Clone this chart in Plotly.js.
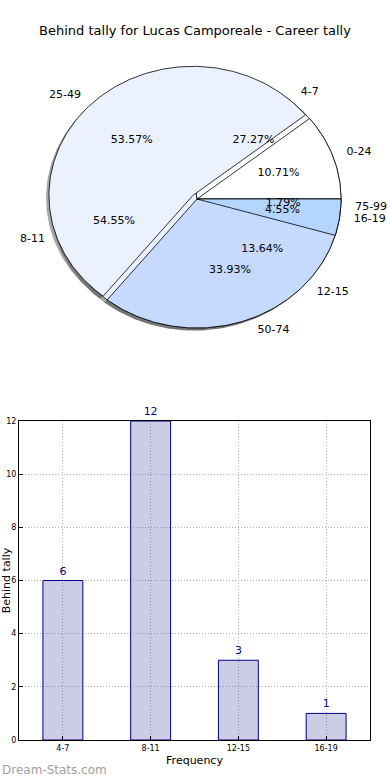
<!DOCTYPE html>
<html><head><meta charset="utf-8">
<script src="https://cdn.plot.ly/plotly-3.0.1.min.js"></script>
<style>html,body{margin:0;padding:0;background:#fff}</style>
</head><body>
<div id="chart" style="width:390px;height:780px"></div>
<script>
// ---- data ----
const careerLabels = ['0-24', '25-49', '50-74', '75-99'];
const careerValues = [6, 30, 19, 1];
const behindLabels = ['4-7', '8-11', '12-15', '16-19'];
const behindValues = [6, 12, 3, 1];
const barCategories = ['4-7', '8-11', '12-15', '16-19'];
const barValues = [6, 12, 3, 1];
const yTickValues = [0, 2, 4, 6, 8, 10, 12];

// ---- styling ----
const sliceColors = ['#ffffff', '#ebf1ff', '#c6d9ff', '#b4d5ff'];
const careerExplode = [0, 0.04, 0, 0];
const behindExplode = [0, 0, 0, 0];
const RX = 144, RY = 129;
const FONT = 'DejaVu Sans, Liberation Sans, sans-serif';

function wedges(values, explode) {
  const total = values.reduce((a, b) => a + b, 0);
  let start = 0;
  return values.map((v, i) => {
    const sweep = 360 * v / total;
    const a0 = start, a1 = start + sweep;
    start = a1;
    const mid = (a0 + a1) / 2 * Math.PI / 180;
    const ox = explode[i] * RX * Math.cos(mid), oy = explode[i] * RY * Math.sin(mid);
    const xs = [ox], ys = [oy];
    const n = Math.max(2, Math.ceil(sweep));
    for (let k = 0; k <= n; k++) {
      const a = (a0 + sweep * k / n) * Math.PI / 180;
      xs.push(ox + RX * Math.cos(a));
      ys.push(oy + RY * Math.sin(a));
    }
    xs.push(ox); ys.push(oy);
    return {xs, ys, mid, ox, oy, pct: 100 * v / total};
  });
}

const behindW = wedges(behindValues, behindExplode);
const careerW = wedges(careerValues, careerExplode);

const traces = [];
function polyTrace(w, fill, line) {
  return {type: 'scatter', mode: 'lines', x: w.xs, y: w.ys, xaxis: 'x2', yaxis: 'y2',
    fill: 'toself', fillcolor: fill, line: line, hoverinfo: 'skip'};
}
// shadows
[behindW, careerW].forEach(ws => ws.forEach(w => {
  const sx = w.xs.map(x => x - 0.02 * RX), sy = w.ys.map(y => y - 0.02 * RY);
  traces.push(polyTrace({xs: sx, ys: sy}, 'rgba(60,60,60,0.45)', {width: 0, color: 'rgba(0,0,0,0)'}));
}));
const edge = {color: '#000', width: 0.8};
behindW.forEach((w, i) => traces.push(polyTrace(w, sliceColors[i], edge)));
careerW.forEach((w, i) => traces.push(polyTrace(w, sliceColors[i], edge)));
// smallest behind wedge drawn last (as in the original rendering)
traces.push(polyTrace(behindW[3], sliceColors[3], edge));

// percentage and label texts
function textTraces(ws, labels) {
  const px = [], py = [], pt = [];
  ws.forEach(w => {
    px.push(w.ox + 0.6 * RX * Math.cos(w.mid));
    py.push(w.oy + 0.6 * RY * Math.sin(w.mid));
    pt.push(w.pct.toFixed(2) + '%');
  });
  traces.push({type: 'scatter', mode: 'text', x: px, y: py, text: pt, textposition: 'middle center',
    xaxis: 'x2', yaxis: 'y2', textfont: {family: FONT, size: 11, color: '#000'}, hoverinfo: 'skip', cliponaxis: false});
  const lx = [], ly = [], lt = [], lp = [];
  ws.forEach((w, i) => {
    const c = Math.cos(w.mid);
    lx.push(w.ox + 1.1 * RX * c);
    ly.push(w.oy + 1.1 * RY * Math.sin(w.mid));
    lt.push(labels[i]);
    lp.push(c >= 0 ? 'middle right' : 'middle left');
  });
  traces.push({type: 'scatter', mode: 'text', x: lx, y: ly, text: lt, textposition: lp,
    xaxis: 'x2', yaxis: 'y2', textfont: {family: FONT, size: 11, color: '#000'}, hoverinfo: 'skip', cliponaxis: false});
}
textTraces(behindW, behindLabels);
textTraces(careerW, careerLabels);

// bar chart
traces.push({type: 'bar', x: barCategories, y: barValues, xaxis: 'x', yaxis: 'y', width: 0.455,
  marker: {color: 'rgba(0,0,128,0.2)', line: {color: '#00008b', width: 1}},
  text: barValues.map(String), textposition: 'outside', cliponaxis: false,
  textfont: {family: FONT, size: 11, color: '#00008b'}, hoverinfo: 'skip'});

const layout = {
  width: 390, height: 780, margin: {l: 0, r: 0, t: 0, b: 0},
  paper_bgcolor: '#fff', plot_bgcolor: '#fff', showlegend: false,
  font: {family: FONT, color: '#000'},
  title: {text: 'Behind tally for Lucas Camporeale - Career tally', x: 0.5, xanchor: 'center',
    y: 1 - 30 / 780, yanchor: 'middle', font: {family: FONT, size: 13, color: '#000'}},
  xaxis2: {domain: [0, 1], range: [-197, 193], visible: false, fixedrange: true, anchor: 'y2'},
  yaxis2: {domain: [0.5, 1], range: [-191, 199], visible: false, fixedrange: true, anchor: 'x2'},
  xaxis: {domain: [19 / 390, 370 / 390], anchor: 'y', type: 'category', range: [-0.5, 3.5],
    showline: true, mirror: true, linecolor: '#000', linewidth: 1,
    ticks: 'inside', ticklen: 4, tickcolor: '#000', tickfont: {family: FONT, size: 8, color: '#000'},
    showgrid: true, gridcolor: '#b0b0b0', griddash: '1px,2px', gridwidth: 1,
    title: {text: 'Frequency', font: {family: FONT, size: 11, color: '#000'}, standoff: 4}},
  yaxis: {domain: [40 / 780, 359 / 780], anchor: 'x', range: [0, 12], tickvals: yTickValues,
    showline: true, mirror: true, linecolor: '#000', linewidth: 1, zeroline: false,
    ticks: 'inside', ticklen: 4, tickcolor: '#000', tickfont: {family: FONT, size: 8, color: '#000'},
    showgrid: true, gridcolor: '#b0b0b0', griddash: '1px,2px', gridwidth: 1,
    title: {text: 'Behind tally', font: {family: FONT, size: 11, color: '#000'}, standoff: 5}},
  annotations: [{text: 'Dream-Stats.com', xref: 'paper', yref: 'paper', x: 0, xanchor: 'left',
    y: 10 / 780, yanchor: 'middle', showarrow: false,
    font: {family: FONT, size: 12, color: '#a0a0a0'}}]
};

Plotly.newPlot('chart', traces, layout, {displayModeBar: false, staticPlot: true});
</script>
</body></html>
